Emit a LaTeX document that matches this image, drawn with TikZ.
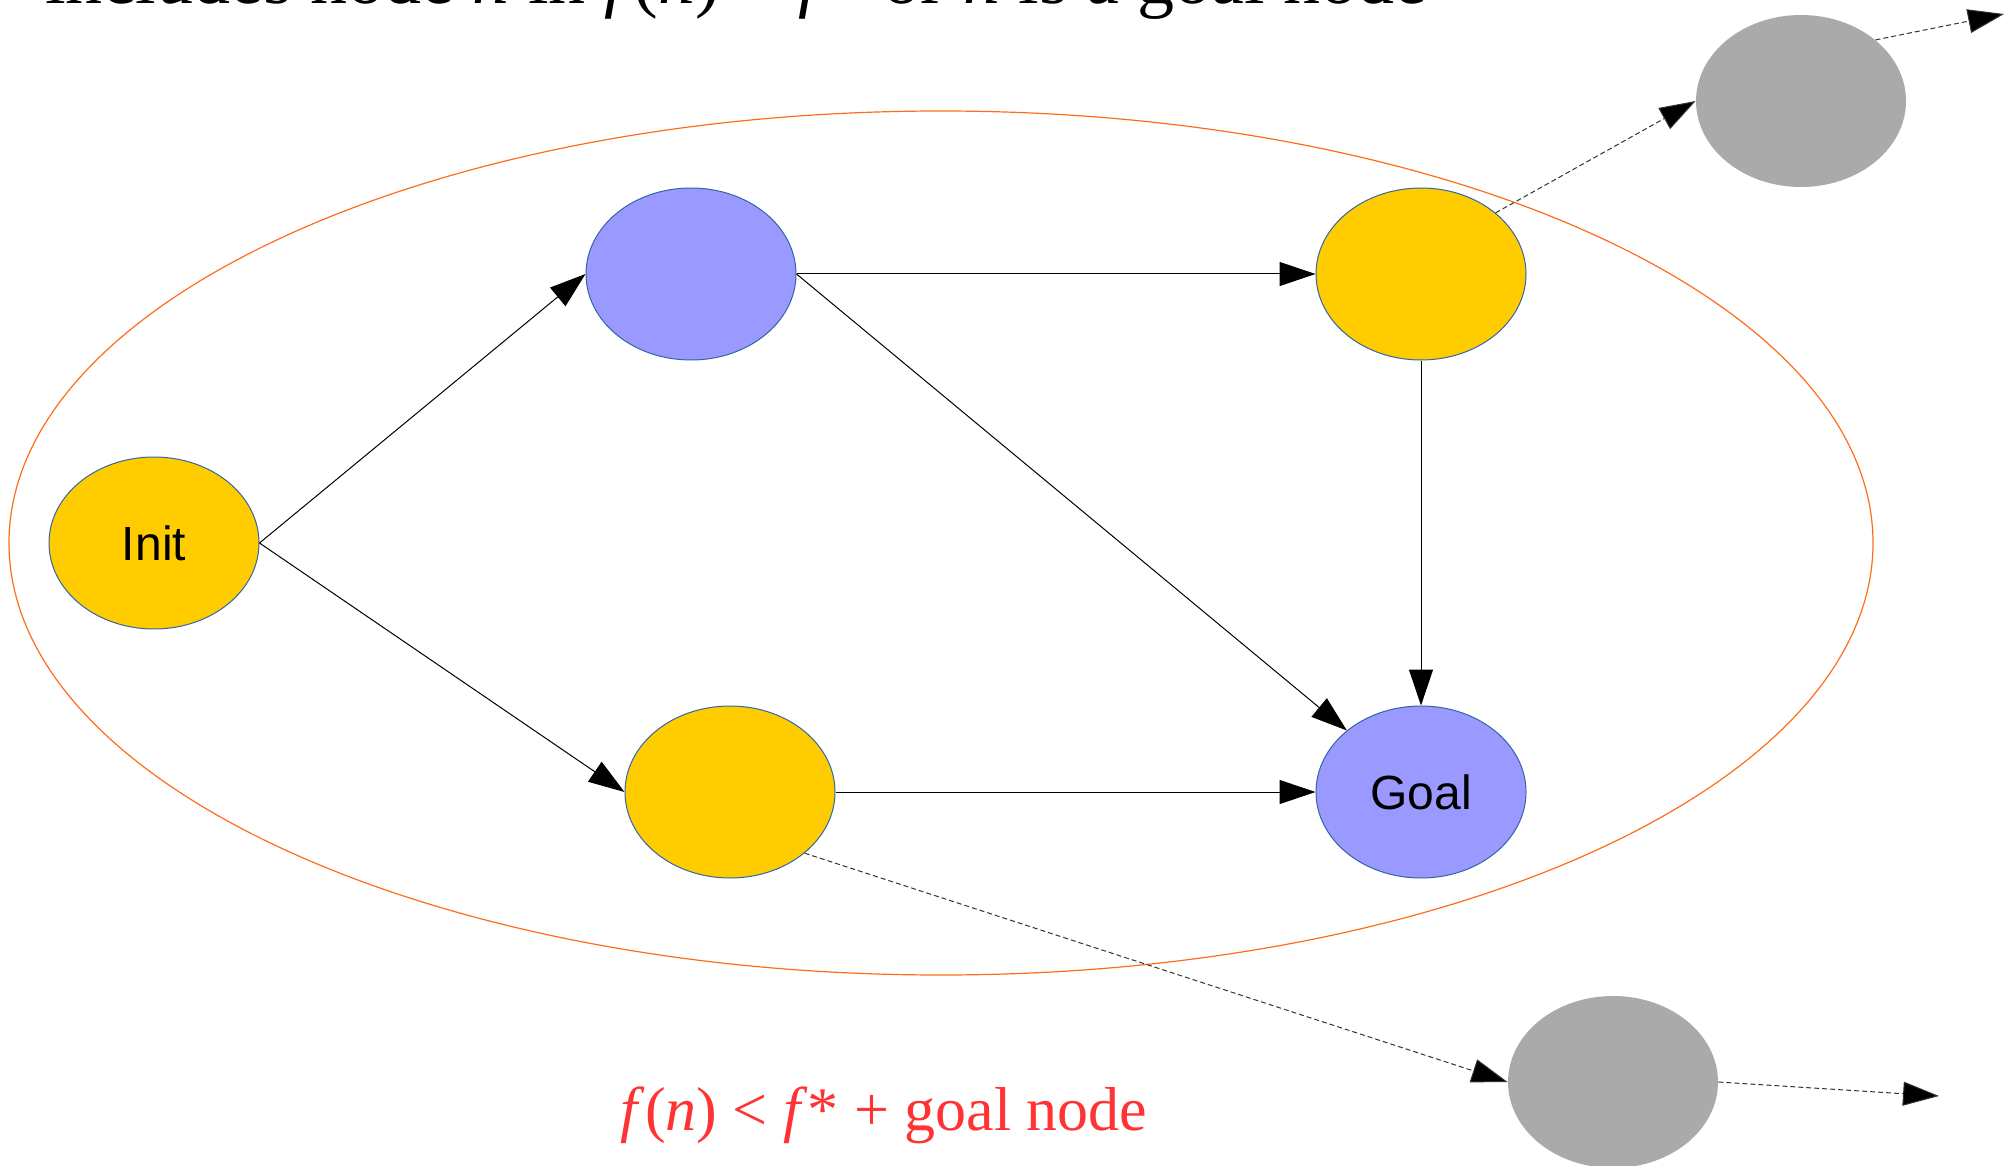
\documentclass[tikz,border=0pt]{standalone}
\usepackage{fontspec}
\setmainfont{Liberation Serif}
\newfontfamily\labelfont{Liberation Sans}
\usetikzlibrary{shapes.geometric,arrows.meta}
\definecolor{nodeyellow}{HTML}{FFCC00}
\definecolor{nodeblue}{HTML}{9999FF}
\definecolor{nodegray}{HTML}{AAAAAA}
\definecolor{outlineblue}{HTML}{3465A4}
\definecolor{regionorange}{HTML}{FF6D1A}
\definecolor{textred}{HTML}{FF3333}
\tikzset{
  statenode/.style={ellipse, inner sep=0pt, minimum width=105pt, minimum height=86pt,
    draw=outlineblue, line width=0.5pt, font=\labelfont\fontsize{24}{28}\selectfont},
  yellownode/.style={statenode, fill=nodeyellow},
  bluenode/.style={statenode, fill=nodeblue},
  graynode/.style={ellipse, inner sep=0pt, minimum width=105pt, minimum height=86pt, fill=nodegray},
  edge/.style={line width=0.5pt, -{Triangle[length=18pt,width=12pt]}},
  dashedge/.style={line width=0.5pt, draw=black!80, dash pattern=on 2.5pt off 1.5pt,
    -{Triangle[length=18pt,width=12pt,fill=black]}},
}
\begin{document}
\begin{tikzpicture}[x=0.5pt,y=-0.5pt]
\useasboundingbox (0,0) rectangle (2007,1166);
\clip (0,0) rectangle (2007,1166);
\node[ellipse, draw=regionorange, line width=0.6pt, inner sep=0pt,
  minimum width=932pt, minimum height=432pt] (region) at (941,543) {};
\node[anchor=base west, inner sep=0pt, font=\fontsize{37}{41}\selectfont] (title) at (45,4)
  {includes node \textit{n} in \textit{f}(\textit{n}) < \textit{f}* or \textit{n} is a goal node};
\node[yellownode] (init) at (154,543) {Init};
\node[bluenode] (b1) at (691,274) {};
\node[yellownode] (y1) at (1421,274) {};
\node[yellownode] (y2) at (730,792) {};
\node[bluenode] (goal) at (1421,792) {Goal};
\node[graynode] (g1) at (1801,101) {};
\node[graynode] (g2) at (1613,1082) {};
\coordinate (out1) at (2004,14);
\coordinate (out2) at (1939,1096);
\draw[edge] (init.east) -- (b1.west);
\draw[edge] (init.east) -- (y2.west);
\draw[edge] (b1.east) -- (y1.west);
\draw[edge] (b1.east) -- (goal);
\draw[edge] (y1.south) -- (goal.north);
\draw[edge] (y2.east) -- (goal.west);
\draw[dashedge] (y1.north east) -- (g1.west);
\draw[dashedge] (g1.north east) -- (out1);
\draw[dashedge] (y2.south east) -- (g2.west);
\draw[dashedge] (g2.east) -- (out2);
\node[anchor=base, inner sep=0pt, text=textred, font=\fontsize{31}{35}\selectfont] (caption) at (884,1130)
  {\textit{f}(\textit{n}) < \textit{f}* + goal node};
\end{tikzpicture}
\end{document}
